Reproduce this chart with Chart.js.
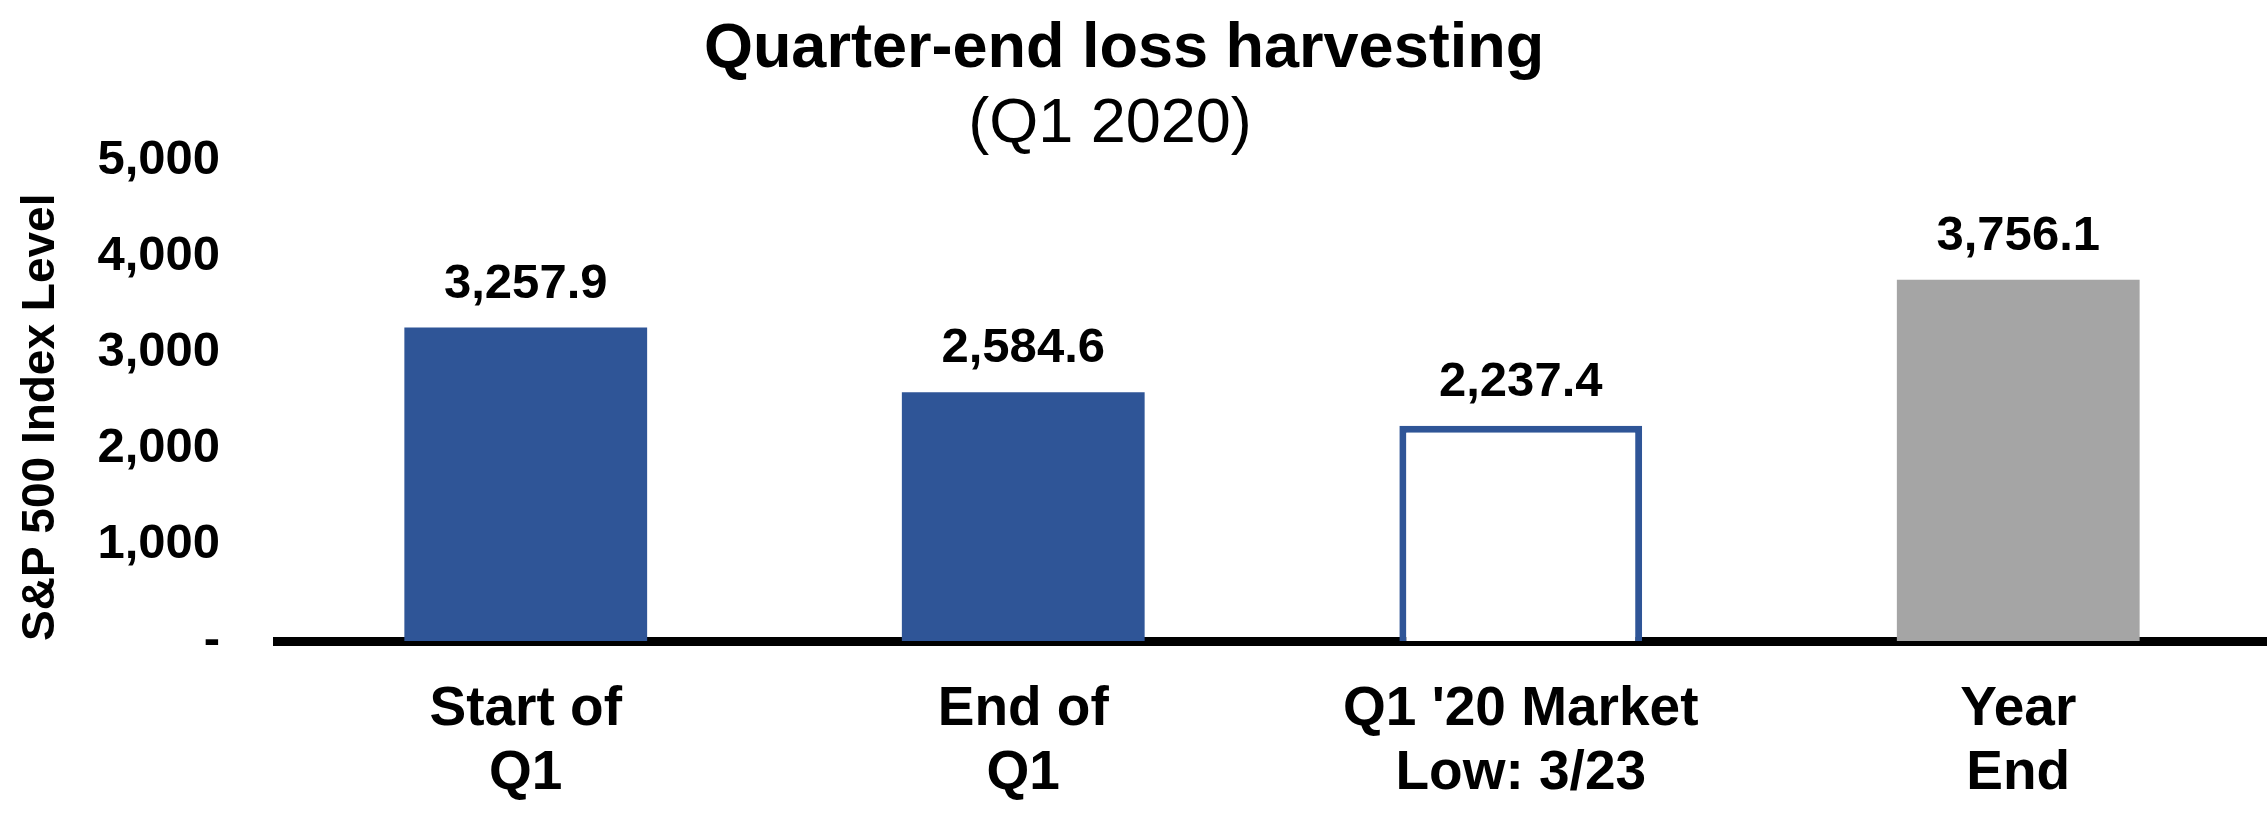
<!DOCTYPE html>
<html lang="en">
<head>
  <meta charset="UTF-8" />
  <title>Quarter-end loss harvesting</title>
  <script src="https://cdn.jsdelivr.net/npm/chart.js"></script>
  <style>
    html, body { margin: 0; padding: 0; background: #fff; }
    #wrap { width: 2267px; height: 835px; position: relative; }
  </style>
</head>
<body>
  <div id="wrap">
    <canvas id="lossChart"></canvas>
  </div>

<script>
  // datos del grafico
  const categories = [
    ['Start of', 'Q1'],
    ['End of', 'Q1'],
    ["Q1 '20 Market", 'Low: 3/23'],
    ['Year', 'End']
  ];
  const indexLevels = [3257.9, 2584.6, 2237.4, 3756.1];
  const yTicks = [0, 1000, 2000, 3000, 4000, 5000];

  const titleText = 'Quarter-end loss harvesting';
  const subtitleText = '(Q1 2020)';
  const yTitle = 'S&P 500 Index Level';

  const FONT = '"Liberation Sans", Arial, Helvetica, sans-serif';
  const BLUE = '#2F5597';
  const GREY = '#A5A5A5';

  function fmtLabel(v) {
    return v.toLocaleString('en-US', { minimumFractionDigits: 1, maximumFractionDigits: 1 });
  }

  // titulo en dos lineas
  const titleLines = {
    id: 'titleLines',
    afterDraw(chart) {
      const ctx = chart.ctx;
      ctx.save();
      ctx.fillStyle = '#000';
      ctx.textAlign = 'center';
      ctx.textBaseline = 'alphabetic';
      ctx.font = 'bold 63px ' + FONT;
      ctx.fillText(titleText, 1124, 67);
      ctx.font = 'normal 63px ' + FONT;
      ctx.fillText(subtitleText, 1110, 142);
      ctx.restore();
    }
  };

  // etiquetas encima de las barras
  const valueLabels = {
    id: 'valueLabels',
    afterDatasetsDraw(chart) {
      const ctx = chart.ctx;
      const meta = chart.getDatasetMeta(0);
      ctx.save();
      ctx.font = 'bold 49px ' + FONT;
      ctx.fillStyle = '#000';
      ctx.textAlign = 'center';
      ctx.textBaseline = 'alphabetic';
      meta.data.forEach((bar, i) => {
        ctx.fillText(fmtLabel(indexLevels[i]), bar.x, bar.y - 30);
      });
      ctx.restore();
    }
  };

  const ctx = document.getElementById('lossChart').getContext('2d');
  new Chart(ctx, {
    type: 'bar',
    data: {
      labels: categories,
      datasets: [{
        data: indexLevels,
        backgroundColor: [BLUE, BLUE, '#FFFFFF', GREY],
        borderColor: [BLUE, BLUE, BLUE, GREY],
        borderWidth: [0, 0, 7, 0],
        borderSkipped: 'start',
        barPercentage: 0.488,
        categoryPercentage: 1.0
      }]
    },
    options: {
      responsive: true,
      maintainAspectRatio: false,
      devicePixelRatio: 1,
      animation: false,
      layout: { padding: { top: 160, right: 0, bottom: 0, left: 0 } },
      plugins: {
        legend: { display: false },
        tooltip: { enabled: false },
        title: { display: false }
      },
      scales: {
        x: {
          z: 1,
          grid: { display: false, drawTicks: false },
          border: { display: true, color: '#000', width: 9 },
          ticks: {
            color: '#000',
            padding: 37,
            font: { family: FONT, size: 55, weight: 'bold', lineHeight: 1.164 }
          },
          afterFit(scale) { scale.height = 194; }
        },
        y: {
          min: 0,
          max: 5000,
          afterBuildTicks(scale) { scale.ticks = yTicks.map(v => ({ value: v })); },
          grid: { display: false, drawTicks: false },
          border: { display: false },
          ticks: {
            color: '#000',
            padding: 57,
            font: { family: FONT, size: 49, weight: 'bold' },
            callback: v => (v === 0 ? '-' : v.toLocaleString('en-US'))
          },
          title: {
            display: true,
            text: yTitle,
            color: '#000',
            align: 'start',
            padding: { top: 14, bottom: 0 },
            font: { family: FONT, size: 46, weight: 'bold', lineHeight: 1.2 }
          },
          afterFit(scale) { scale.width = 277; }
        }
      }
    },
    plugins: [titleLines, valueLabels]
  });
</script>
</body>
</html>
